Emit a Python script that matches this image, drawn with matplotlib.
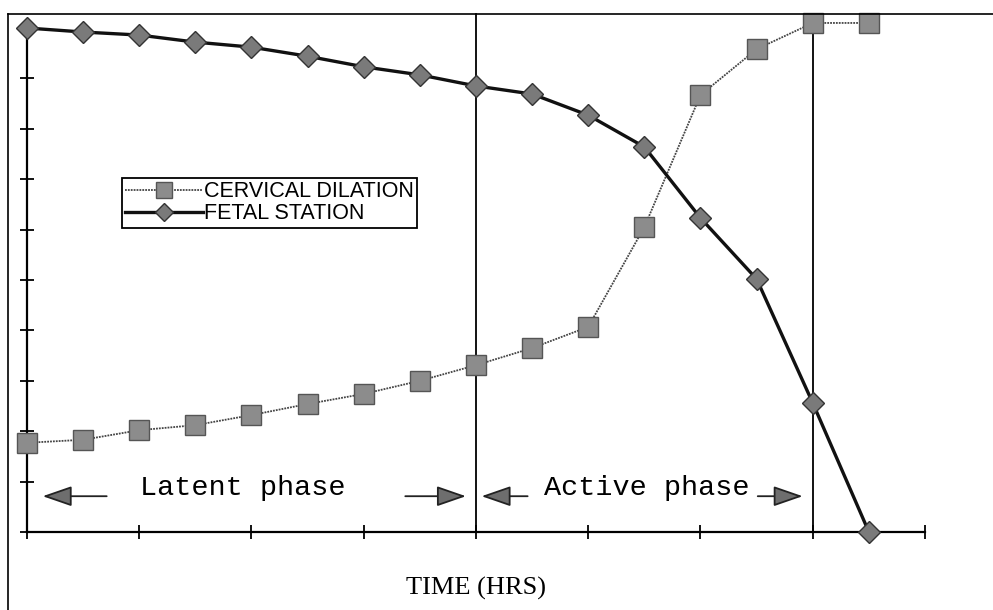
import numpy as np
import matplotlib
matplotlib.use("Agg")
import matplotlib.pyplot as plt
from matplotlib.lines import Line2D

# data (time in hours, half-hour steps)
hours = np.arange(0, 8, 0.5)
cervical_dilation = [1.77, 1.83, 2.02, 2.12, 2.32, 2.54, 2.74, 3.0,
                     3.31, 3.65, 4.07, 6.05, 8.67, 9.58, 10.1, 10.1]
fetal_station = [10.0, 9.92, 9.86, 9.72, 9.62, 9.44, 9.23, 9.07,
                 8.85, 8.69, 8.27, 7.64, 6.23, 5.02, 2.56, 0.0]
phase_bounds = [4, 7]
x_ticks = list(range(0, 9))
y_ticks = list(range(0, 11))

fig = plt.figure(figsize=(9.93, 6.10), dpi=100)
ax = fig.add_axes([27 / 993, 78 / 610, 898 / 993, 504 / 610])

# cervical dilation: thin dotted line, checkered grey squares
ax.plot(hours, cervical_dilation, color="#444444", linewidth=1.3, linestyle=(0, (1, 0.6)),
        marker="s", markersize=14, markerfacecolor="#8c8c8c", markeredgecolor="#555555",
        markeredgewidth=1, clip_on=False, zorder=3, label="CERVICAL DILATION")
# fetal station: solid black line, grey diamonds
ax.plot(hours, fetal_station, color="#111111", linewidth=2.4,
        marker="D", markersize=11, markerfacecolor="#7a7a7a", markeredgecolor="#333333",
        markeredgewidth=1, clip_on=False, zorder=4, label="FETAL STATION")

# phase boundaries run up to the outer frame
for xb in phase_bounds:
    ax.plot([xb, xb], [0, 10.28], color="black", linewidth=1.3, clip_on=False, zorder=2)

ax.set_xlim(0, 8)
ax.set_ylim(0, 10)
ax.set_xticks(x_ticks)
ax.set_yticks(y_ticks)
ax.set_xticklabels([])
ax.set_yticklabels([])
ax.tick_params(direction="inout", length=10, width=1.3, color="black")
for side in ["top", "right"]:
    ax.spines[side].set_visible(False)
for side in ["left", "bottom"]:
    ax.spines[side].set_linewidth(1.6)

ax.set_xlabel("TIME (HRS)", fontsize=19, family="Liberation Serif", labelpad=24)

# phase annotations
mono = dict(family="Liberation Mono", fontsize=20.5, ha="center", va="center")
ax.text(1.92, 0.87, "Latent phase", **mono)
ax.text(5.52, 0.87, "Active phase", **mono)
arrow = dict(arrowstyle="-|>,head_length=1.3,head_width=0.45", edgecolor="#222222",
             facecolor="#6e6e6e", lw=1.3, shrinkA=0, shrinkB=0, mutation_scale=14)
for tail, tip in [(0.71, 0.14), (3.37, 3.91), (4.46, 4.05), (6.51, 6.91)]:
    ax.annotate("", xy=(tip, 0.71), xytext=(tail, 0.71), arrowprops=arrow)

leg = ax.legend(loc="upper left", bbox_to_anchor=(122 / 993, 1 - 178 / 610),
                bbox_transform=fig.transFigure, borderaxespad=0, fancybox=False,
                edgecolor="black", framealpha=1, handlelength=3.6, handletextpad=0.05,
                borderpad=0.15, labelspacing=0.05, markerscale=0.85,
                prop={"family": "Liberation Sans", "size": 15.5})
leg.get_frame().set_linewidth(1.3)

# outer frame (left and top edges)
fig.add_artist(Line2D([8 / 993, 8 / 993], [0, 1 - 14 / 610], color="black", linewidth=1.2))
fig.add_artist(Line2D([8 / 993, 1], [1 - 14 / 610, 1 - 14 / 610], color="black", linewidth=1.2))

fig.savefig("out.png", dpi=100, facecolor="white")
